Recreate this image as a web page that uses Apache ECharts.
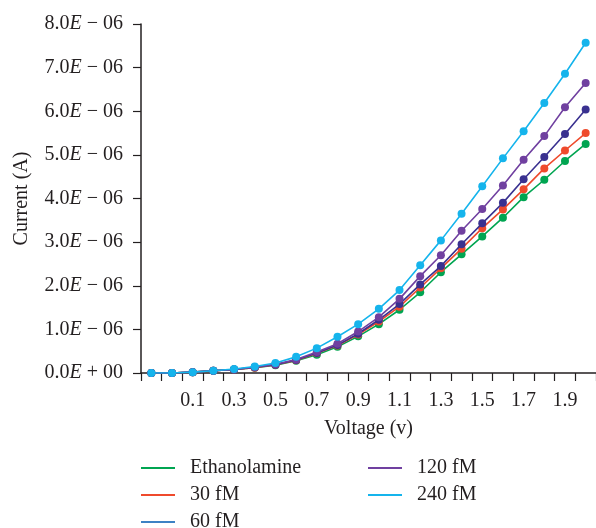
<!DOCTYPE html>
<html>
<head>
<meta charset="utf-8">
<script src="https://cdn.jsdelivr.net/npm/echarts@6/dist/echarts.min.js"></script>
<style>html,body{margin:0;padding:0;background:#fff}#c{width:596px;height:528px}</style>
</head>
<body>
<div id="c"></div>
<script>
// Voltage categories (V)
const voltages = ['-0.1','0.0','0.1','0.2','0.3','0.4','0.5','0.6','0.7','0.8','0.9','1.0','1.1','1.2','1.3','1.4','1.5','1.6','1.7','1.8','1.9','2.0'];
// Currents in units of 1e-6 A
const ethanolamine = [0,0,0.02,0.05,0.08,0.12,0.18,0.28,0.42,0.60,0.84,1.12,1.45,1.85,2.31,2.72,3.13,3.56,4.03,4.43,4.86,5.25];
const fM30  = [0,0,0.02,0.05,0.08,0.12,0.19,0.29,0.45,0.63,0.88,1.18,1.52,1.96,2.40,2.85,3.32,3.75,4.21,4.69,5.10,5.50];
const fM60  = [0,0,0.02,0.05,0.08,0.13,0.19,0.30,0.46,0.64,0.90,1.22,1.58,2.03,2.45,2.95,3.43,3.90,4.44,4.95,5.48,6.04];
const fM120 = [0,0,0.02,0.05,0.08,0.13,0.20,0.31,0.48,0.67,0.95,1.28,1.70,2.22,2.70,3.26,3.76,4.30,4.89,5.43,6.09,6.65];
const fM240 = [0,0,0.02,0.05,0.09,0.15,0.23,0.37,0.57,0.83,1.12,1.47,1.90,2.47,3.04,3.65,4.28,4.92,5.54,6.19,6.86,7.57];
const seriesNames = ['Ethanolamine','30 fM','60 fM','120 fM','240 fM'];
const seriesData = [ethanolamine, fM30, fM60, fM120, fM240];
const colors = ['#00a551','#ef4a2c','#3a3190','#7040a0','#15b4ec'];
const legendColors = ['#00a551','#ef4a2c','#3d82c4','#7040a0','#15b4ec'];

const FONT = '"Liberation Serif", "DejaVu Serif", serif';
const TXT = '#231f20';
const FS = 20;
const scale = 1e-6;

const chart = echarts.init(document.getElementById('c'), null, {renderer:'canvas'});
const richLbl = {
  n: {fontFamily: FONT, fontSize: FS, color: TXT},
  e: {fontFamily: FONT, fontSize: FS, color: TXT, fontStyle: 'italic'}
};
function yFmt(v) {
  const m = v / scale;
  if (Math.abs(m) < 1e-9) return '{n|0.0}{e|E}{n| + 00}';
  return '{n|' + m.toFixed(1) + '}{e|E}{n| \u2212 06}';
}
function legendData(idx) {
  return idx.map(i => ({name: seriesNames[i], itemStyle: {color: legendColors[i]}}));
}
const legendCommon = {
  orient: 'vertical',
  icon: 'rect',
  itemWidth: 34,
  itemHeight: 2,
  itemGap: 5,
  padding: 0,
  height: 80,
  textStyle: {fontFamily: FONT, fontSize: FS, color: TXT, padding: [0,0,0,10], lineHeight: 22},
  selectedMode: false
};

chart.setOption({
  animation: false,
  backgroundColor: '#fff',
  grid: {left: 141, right: 0, top: 24, bottom: 155, containLabel: false},
  legend: [
    Object.assign({}, legendCommon, {left: 141, top: 457, data: legendData([0,1,2])}),
    Object.assign({}, legendCommon, {left: 368, top: 457, data: legendData([3,4])})
  ],
  xAxis: {
    type: 'category',
    data: voltages,
    boundaryGap: true,
    name: 'Voltage (v)',
    nameLocation: 'middle',
    nameGap: 46,
    nameTextStyle: {fontFamily: FONT, fontSize: FS, color: TXT},
    axisLine: {lineStyle: {color: TXT, width: 1.5}},
    axisTick: {show: true, interval: 0, length: 8, lineStyle: {color: TXT, width: 1.2}},
    axisLabel: {
      interval: function (index) { return index > 0 && index % 2 === 0; },
      fontFamily: FONT, fontSize: FS, color: TXT, margin: 18
    },
    splitLine: {show: false}
  },
  yAxis: {
    type: 'value',
    min: 0,
    max: 8e-6,
    interval: 1e-6,
    name: 'Current (A)',
    nameLocation: 'middle',
    nameGap: 109,
    nameTextStyle: {fontFamily: FONT, fontSize: FS, color: TXT},
    axisLine: {show: true, lineStyle: {color: TXT, width: 1.5}},
    axisTick: {show: true, length: 8, lineStyle: {color: TXT, width: 1.2}},
    axisLabel: {formatter: yFmt, rich: richLbl, margin: 18},
    splitLine: {show: false}
  },
  series: seriesNames.map((name, i) => ({
    name: name,
    type: 'line',
    data: seriesData[i].map(v => v * scale),
    symbol: 'circle',
    symbolSize: 8,
    showSymbol: true,
    color: colors[i],
    lineStyle: {width: 1.6, color: colors[i]},
    itemStyle: {color: colors[i]},
    z: 2 + i
  }))
});
</script>
</body>
</html>
